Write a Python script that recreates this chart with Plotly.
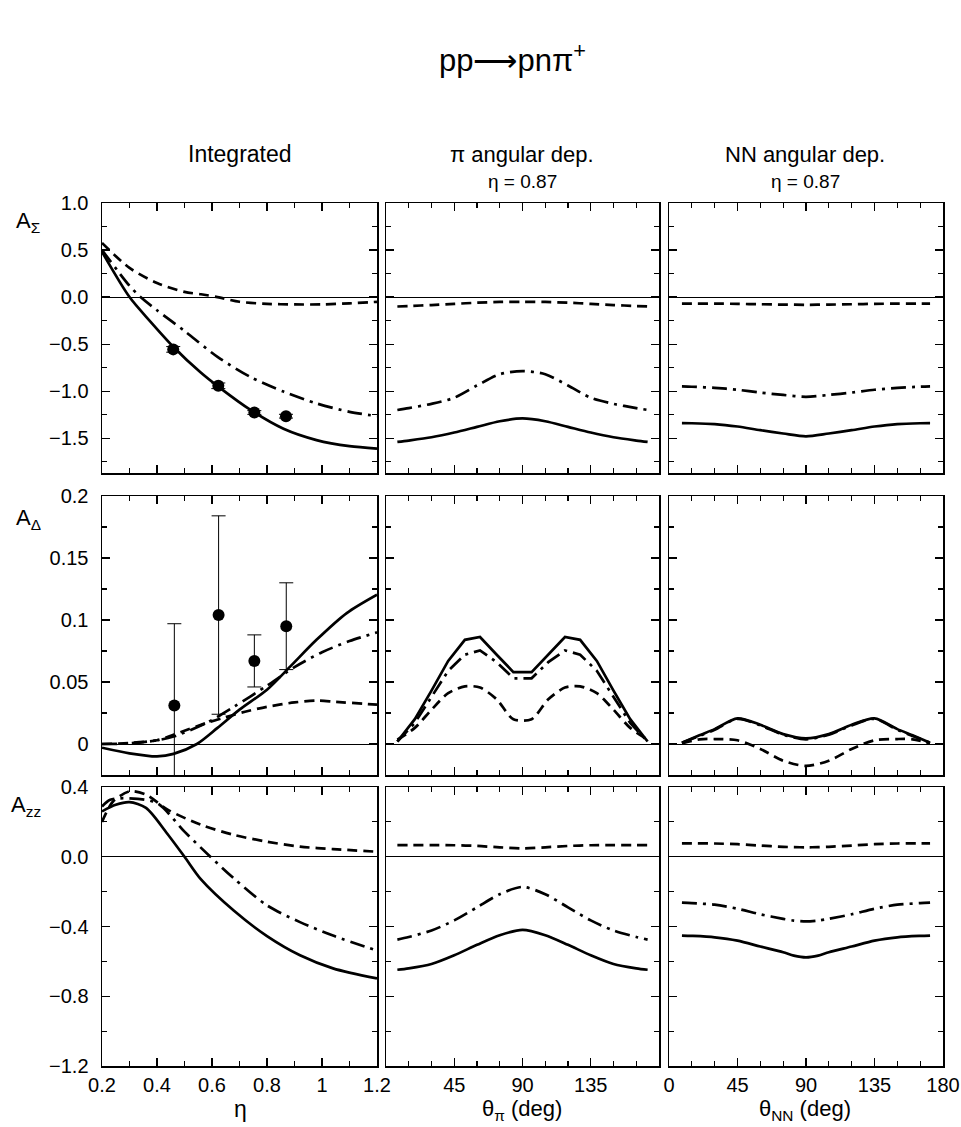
import plotly.graph_objects as go

W, H = 961, 1127

# ---------------- data ----------------
# Integrated (vs eta)
eta_sig_solid = [0.2, 0.3, 0.376, 0.46, 0.558, 0.624, 0.74, 0.86, 0.98, 1.1, 1.2]
sig_solid = [0.48, 0.0, -0.26, -0.53, -0.80, -0.955, -1.2, -1.40, -1.52, -1.585, -1.61]
eta_sig_dashdot = [0.2, 0.3, 0.34, 0.4, 0.5, 0.62, 0.74, 0.86, 0.98, 1.1, 1.2]
sig_dashdot = [0.5, 0.12, 0.0, -0.14, -0.36, -0.635, -0.85, -1.005, -1.13, -1.22, -1.265]
eta_sig_dash = [0.2, 0.3, 0.4, 0.5, 0.56, 0.62, 0.7, 0.8, 0.9, 1.0, 1.1, 1.2]
sig_dash = [0.575, 0.31, 0.15, 0.055, 0.03, 0.0, -0.05, -0.072, -0.078, -0.078, -0.067, -0.05]
eta_sig_data = [0.459, 0.623, 0.754, 0.869]
sig_data = [-0.556, -0.943, -1.227, -1.266]
sig_err = [0.03, 0.03, 0.02, 0.02]

eta_del_solid = [0.2, 0.3, 0.4, 0.46, 0.545, 0.62, 0.7, 0.8, 0.885, 0.98, 1.09, 1.2]
del_solid = [-0.003, -0.0075, -0.01, -0.008, 0.0, 0.013, 0.0277, 0.0438, 0.0626, 0.084, 0.1056, 0.1204]
eta_del_dashdot = [0.2, 0.3, 0.4, 0.46, 0.58, 0.68, 0.8, 0.9, 1.0, 1.1, 1.2]
del_dashdot = [0.0, 0.0005, 0.003, 0.006, 0.017, 0.03, 0.047, 0.062, 0.074, 0.083, 0.09]
eta_del_dash = [0.2, 0.3, 0.4, 0.46, 0.58, 0.64, 0.72, 0.8, 0.9, 0.98, 1.05, 1.2]
del_dash = [0.0, 0.0008, 0.003, 0.0075, 0.017, 0.021, 0.026, 0.03, 0.0335, 0.035, 0.034, 0.0317]
eta_del_data = [0.463, 0.624, 0.754, 0.87]
del_data = [0.031, 0.104, 0.067, 0.095]
del_err = [0.066, 0.08, 0.021, 0.035]

eta_zz_solid = [0.2, 0.25, 0.3, 0.36, 0.436, 0.5, 0.56, 0.68, 0.8, 0.92, 1.04, 1.2]
zz_solid = [0.26, 0.298, 0.313, 0.28, 0.135, 0.0, -0.13, -0.31, -0.455, -0.565, -0.64, -0.698]
eta_zz_dashdot = [0.2, 0.23, 0.3, 0.4, 0.5, 0.594, 0.68, 0.8, 0.92, 1.04, 1.2]
zz_dashdot = [0.288, 0.327, 0.335, 0.308, 0.144, 0.0, -0.125, -0.279, -0.375, -0.452, -0.538]
eta_zz_dash = [0.2, 0.24, 0.3, 0.36, 0.44, 0.56, 0.68, 0.8, 0.92, 1.04, 1.2]
zz_dash = [0.2, 0.317, 0.375, 0.356, 0.269, 0.183, 0.125, 0.0865, 0.058, 0.044, 0.029]

# pi angular dependence (eta = 0.87)
th_pi = [7.5, 15, 30, 45, 60, 75, 90, 105, 120, 135, 150, 165, 172.5]
pi_sig_solid = [-1.54, -1.525, -1.49, -1.44, -1.38, -1.32, -1.29, -1.32, -1.38, -1.44, -1.49, -1.525, -1.54]
pi_sig_dashdot = [-1.2, -1.18, -1.135, -1.07, -0.94, -0.82, -0.787, -0.82, -0.94, -1.07, -1.135, -1.18, -1.2]
pi_sig_dash = [-0.10, -0.095, -0.085, -0.072, -0.06, -0.052, -0.05, -0.052, -0.06, -0.072, -0.085, -0.095, -0.10]

th_pi_del = [7.5, 19, 30, 41, 52, 62, 73, 84, 96, 107, 118, 128, 139, 150, 161, 172.5]
pi_del_solid = [0.002, 0.02, 0.043, 0.067, 0.084, 0.0863, 0.072, 0.058, 0.058, 0.072, 0.0863, 0.084, 0.067, 0.043, 0.02, 0.002]
pi_del_dashdot = [0.002, 0.017, 0.038, 0.059, 0.072, 0.0755, 0.066, 0.053, 0.053, 0.066, 0.0755, 0.072, 0.059, 0.038, 0.017, 0.002]
pi_del_dash = [0.0035, 0.013, 0.0277, 0.041, 0.0465, 0.0455, 0.036, 0.02, 0.02, 0.036, 0.0455, 0.0465, 0.041, 0.0277, 0.013, 0.0035]

pi_zz_solid = [-0.648, -0.64, -0.615, -0.565, -0.505, -0.45, -0.419, -0.45, -0.505, -0.565, -0.615, -0.64, -0.648]
pi_zz_dashdot = [-0.475, -0.46, -0.423, -0.365, -0.29, -0.215, -0.173, -0.215, -0.29, -0.365, -0.423, -0.46, -0.475]
pi_zz_dash = [0.067, 0.067, 0.067, 0.066, 0.062, 0.054, 0.048, 0.054, 0.062, 0.066, 0.067, 0.067, 0.067]

# NN angular dependence (eta = 0.87)
th_nn = [8.5, 15, 30, 45, 60, 75, 90, 105, 120, 135, 150, 165, 171.5]
nn_sig_solid = [-1.34, -1.341, -1.35, -1.376, -1.415, -1.45, -1.48, -1.45, -1.415, -1.376, -1.35, -1.341, -1.34]
nn_sig_dashdot = [-0.95, -0.953, -0.965, -0.985, -1.015, -1.04, -1.06, -1.04, -1.015, -0.985, -0.965, -0.953, -0.95]
nn_sig_dash = [-0.07, -0.07, -0.07, -0.072, -0.076, -0.08, -0.082, -0.08, -0.076, -0.072, -0.07, -0.07, -0.07]

th_nn_del = [8.5, 20, 30, 45, 60, 75, 90, 105, 120, 135, 150, 160, 171.5]
nn_del_solid = [0.001, 0.007, 0.012, 0.0207, 0.0155, 0.008, 0.0046, 0.008, 0.0155, 0.0207, 0.012, 0.007, 0.001]
nn_del_dashdot = [0.001, 0.0065, 0.0115, 0.0203, 0.015, 0.0075, 0.0038, 0.0075, 0.015, 0.0203, 0.0115, 0.0065, 0.001]
nn_del_dash = [0.0005, 0.0038, 0.004, 0.003, -0.004, -0.0135, -0.0177, -0.0135, -0.004, 0.003, 0.004, 0.0038, 0.0005]

th_nn_zz = [8.5, 15, 30, 45, 60, 75, 82, 90, 98, 105, 120, 135, 150, 165, 171.5]
nn_zz_solid = [-0.452, -0.454, -0.462, -0.481, -0.515, -0.548, -0.567, -0.577, -0.567, -0.548, -0.515, -0.481, -0.462, -0.454, -0.452]
nn_zz_dashdot = [-0.263, -0.266, -0.275, -0.298, -0.33, -0.356, -0.366, -0.371, -0.366, -0.356, -0.33, -0.298, -0.275, -0.266, -0.263]
nn_zz_dash = [0.077, 0.077, 0.076, 0.072, 0.064, 0.057, 0.055, 0.054, 0.055, 0.057, 0.064, 0.072, 0.076, 0.077, 0.077]

eta_ticks = [0.2, 0.4, 0.6, 0.8, 1.0, 1.2]
eta_ticktext = ["0.2", "0.4", "0.6", "0.8", "1", "1.2"]
pi_ticks = [45, 90, 135]
pi_ticktext = ["45", "90", "135"]
nn_ticks = [0, 45, 90, 135, 180]
nn_ticktext = ["0", "45", "90", "135", "180"]

# ---------------- layout helpers ----------------
FONT = "Liberation Sans, Arial, sans-serif"
col_px = [(102, 377), (386, 659), (669, 943)]      # panel frames, page pixels
row_px = [(203, 473), (496, 775), (787, 1066)]
yranges = [[-1.87, 1.0], [-0.025, 0.2], [-1.2, 0.4]]
ydtick = [0.5, 0.05, 0.4]
yminor = [0.25, 0.025, 0.2]
yfmt = [".1f", "", ".1f"]

DASH = "10px,6px"
DASHDOT = "15px,6px,3px,6px"
LW = 2.7


def fx(px):
    return px / W


def fy(py):
    return 1 - py / H


fig = go.Figure()


def ax_ids(r, c):
    k = r * 3 + c + 1
    return ("x" if k == 1 else f"x{k}"), ("y" if k == 1 else f"y{k}"), k


def add_line(r, c, x, y, dash, shape="spline"):
    xa, ya, _ = ax_ids(r, c)
    fig.add_trace(go.Scatter(x=x, y=y, mode="lines", xaxis=xa, yaxis=ya,
                             line=dict(color="black", width=LW, dash=dash,
                                       shape=shape, smoothing=0.8),
                             showlegend=False, hoverinfo="skip"))


def add_data(r, c, x, y, err):
    xa, ya, _ = ax_ids(r, c)
    fig.add_trace(go.Scatter(x=x, y=y, mode="markers", xaxis=xa, yaxis=ya,
                             marker=dict(color="black", size=12),
                             error_y=dict(type="data", array=err, color="black",
                                          thickness=1, width=7),
                             showlegend=False, hoverinfo="skip"))


# row 0: A_Sigma
add_line(0, 0, eta_sig_solid, sig_solid, "solid")
add_line(0, 0, eta_sig_dashdot, sig_dashdot, DASHDOT)
add_line(0, 0, eta_sig_dash, sig_dash, DASH)
add_data(0, 0, eta_sig_data, sig_data, sig_err)
add_line(0, 1, th_pi, pi_sig_solid, "solid")
add_line(0, 1, th_pi, pi_sig_dashdot, DASHDOT)
add_line(0, 1, th_pi, pi_sig_dash, DASH)
add_line(0, 2, th_nn, nn_sig_solid, "solid")
add_line(0, 2, th_nn, nn_sig_dashdot, DASHDOT)
add_line(0, 2, th_nn, nn_sig_dash, DASH)
# row 1: A_Delta
add_line(1, 0, eta_del_solid, del_solid, "solid")
add_line(1, 0, eta_del_dashdot, del_dashdot, DASHDOT)
add_line(1, 0, eta_del_dash, del_dash, DASH)
add_data(1, 0, eta_del_data, del_data, del_err)
add_line(1, 1, th_pi_del, pi_del_solid, "solid", "linear")
add_line(1, 1, th_pi_del, pi_del_dashdot, DASHDOT, "linear")
add_line(1, 1, th_pi_del, pi_del_dash, DASH, "spline")
add_line(1, 2, th_nn_del, nn_del_solid, "solid")
add_line(1, 2, th_nn_del, nn_del_dashdot, DASHDOT)
add_line(1, 2, th_nn_del, nn_del_dash, DASH)
# row 2: A_zz
add_line(2, 0, eta_zz_solid, zz_solid, "solid")
add_line(2, 0, eta_zz_dashdot, zz_dashdot, DASHDOT)
add_line(2, 0, eta_zz_dash, zz_dash, DASH)
add_line(2, 1, th_pi, pi_zz_solid, "solid")
add_line(2, 1, th_pi, pi_zz_dashdot, DASHDOT)
add_line(2, 1, th_pi, pi_zz_dash, DASH)
add_line(2, 2, th_nn_zz, nn_zz_solid, "solid")
add_line(2, 2, th_nn_zz, nn_zz_dashdot, DASHDOT)
add_line(2, 2, th_nn_zz, nn_zz_dash, DASH)

layout = dict(width=W, height=H, margin=dict(l=0, r=0, t=0, b=0, autoexpand=False),
              template="none",
              paper_bgcolor="white", plot_bgcolor="white",
              font=dict(family=FONT, color="black", size=20), showlegend=False)

for r in range(3):
    for c in range(3):
        xa, ya, k = ax_ids(r, c)
        xkey = "xaxis" if k == 1 else f"xaxis{k}"
        ykey = "yaxis" if k == 1 else f"yaxis{k}"
        x0, x1 = col_px[c]
        y0, y1 = row_px[r]
        common = dict(showline=True, linecolor="black", linewidth=1.5, mirror="allticks",
                      ticks="inside", ticklen=8, tickwidth=1.2, tickcolor="black",
                      showgrid=False, fixedrange=True, automargin=False,
                      ticklabeloverflow="allow")
        if c == 0:
            xax = dict(range=[0.2, 1.2], tickmode="array", tickvals=eta_ticks, ticktext=eta_ticktext,
                       minor=dict(tickmode="linear", tick0=0.2, dtick=0.1, ticks="inside",
                                  ticklen=5, tickwidth=1.2, tickcolor="black", showgrid=False),
                       zeroline=False)
        else:
            xax = dict(range=[0, 180], tickmode="array",
                       tickvals=pi_ticks if c == 1 else nn_ticks,
                       ticktext=pi_ticktext if c == 1 else nn_ticktext,
                       minor=dict(tickmode="linear", tick0=0, dtick=15, ticks="inside",
                                  ticklen=5, tickwidth=1.2, tickcolor="black", showgrid=False),
                       zeroline=False)
        xax.update(common)
        xax.update(domain=[fx(x0), fx(x1)], anchor=ya,
                   showticklabels=(r == 2), ticklabelstandoff=0,
                   tickfont=dict(size=20, family=FONT))
        yax = dict(range=yranges[r], tickmode="linear", tick0=0, dtick=ydtick[r],
                   tickformat=yfmt[r],
                   minor=dict(tickmode="linear", tick0=0, dtick=yminor[r], ticks="inside",
                              ticklen=5, tickwidth=1.2, tickcolor="black", showgrid=False),
                   zeroline=True, zerolinecolor="black", zerolinewidth=1)
        yax.update(common)
        yax.update(domain=[fy(y1), fy(y0)], anchor=xa,
                   showticklabels=(c == 0), ticklabelstandoff=8,
                   tickfont=dict(size=20, family=FONT))
        layout[xkey] = xax
        layout[ykey] = yax

ann = []


def txt(x, y, s, size, **kw):
    d = dict(x=fx(x), y=fy(y), xref="paper", yref="paper", text=s, showarrow=False,
             xanchor="center", yanchor="middle", font=dict(size=size, family=FONT, color="black"))
    d.update(kw)
    ann.append(d)


txt(512, 58, "pp⟶pnπ<sup>+</sup>", 31)
txt(240, 154, "Integrated", 23)
txt(522, 154, "π angular dep.", 22)
txt(522, 181, "η = 0.87", 19)
txt(805, 154, "NN angular dep.", 22)
txt(805, 181, "η = 0.87", 19)
txt(28, 222, "A<sub>Σ</sub>", 22)
txt(28, 519, "A<sub>Δ</sub>", 22)
txt(26, 806, "A<sub>zz</sub>", 22)
txt(240, 1109, "η", 23)
txt(522, 1110, "θ<sub>π</sub> (deg)", 22)
txt(805, 1110, "θ<sub>NN</sub> (deg)", 22)

layout["annotations"] = ann
fig.update_layout(**layout)
# remove the browser's default 8px page margin so the figure fills the window exactly
fig.write_html("out.html",
               config={"displayModeBar": False, "staticPlot": True},
               post_script="document.body.style.margin='0';document.body.style.overflow='hidden';")
